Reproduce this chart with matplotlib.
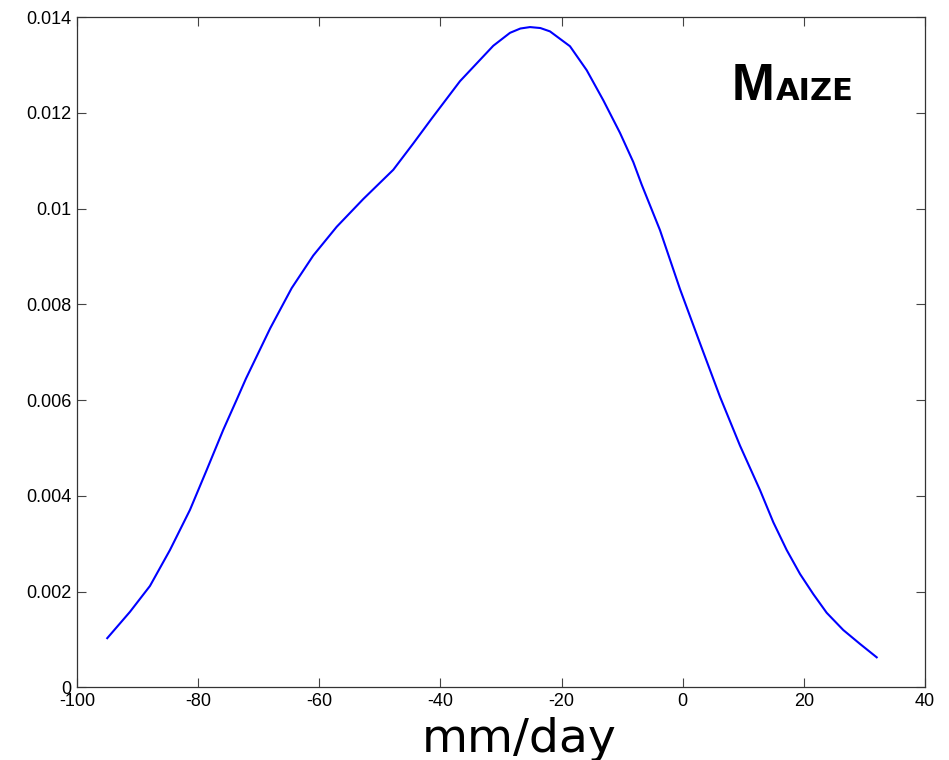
import matplotlib.pyplot as plt

plt.rcParams["font.family"] = ["Liberation Sans", "DejaVu Sans"]
plt.rcParams["axes.unicode_minus"] = False

# density curve (x in mm/day)
x_vals = [-95.0, -91.25, -87.95, -84.65, -81.34, -78.59, -75.85, -73.63, -72.1,
          -68.1, -64.55, -60.99, -57.12, -52.73, -47.78, -44.48, -41.44,
          -36.77, -31.27, -28.51, -26.8, -25.21, -23.5, -21.91, -18.61,
          -15.85, -13.1, -10.35, -8.15, -6.77, -3.75, -0.45, 2.85, 6.16,
          9.46, 12.77, 14.96, 17.17, 19.37, 21.56, 23.77, 26.51, 29.27, 32.03]
density = [0.00103, 0.00158, 0.00212, 0.00287, 0.00371, 0.00454, 0.00538,
           0.00601, 0.00645, 0.00750, 0.00834, 0.00902, 0.00962, 0.01020,
           0.01081, 0.01136, 0.01188, 0.01266, 0.01340, 0.01367, 0.01376,
           0.01379, 0.01377, 0.01370, 0.01339, 0.01289, 0.01226, 0.01158,
           0.01097, 0.01050, 0.00955, 0.00832, 0.00719, 0.00607, 0.00505,
           0.00412, 0.00345, 0.00287, 0.00237, 0.00195, 0.00156, 0.00120,
           0.00091, 0.00063]

x_ticks = [-100, -80, -60, -40, -20, 0, 20, 40]
y_ticks = [0, 0.002, 0.004, 0.006, 0.008, 0.01, 0.012, 0.014]
y_tick_labels = ["0", "0.002", "0.004", "0.006", "0.008", "0.01", "0.012", "0.014"]

fig = plt.figure(figsize=(9.49, 7.6), dpi=100)
ax = fig.add_axes([0.0811, 0.0954, 0.8936, 0.8822])

ax.plot(x_vals, density, color="#0000ff", lw=1.5, solid_joinstyle="round")

ax.set_xlim(-100, 40)
ax.set_ylim(0, 0.014)
ax.set_xticks(x_ticks)
ax.set_xticklabels([str(t) for t in x_ticks])
ax.set_yticks(y_ticks)
ax.set_yticklabels(y_tick_labels)
ax.tick_params(direction="in", length=6.5, width=0.8, labelsize=13,
               top=True, right=True, pad=4, color="#444444")
for s in ax.spines.values():
    s.set_linewidth(0.9)
    s.set_color("#333333")

ax.set_xlabel("mm/day", fontsize=34, family="DejaVu Sans", labelpad=0)
ax.xaxis.set_label_coords(0.522, -0.096)
ax.xaxis.label.set_va("baseline")

# small-caps style title
t1 = ax.text(0.772, 0.876, "M", transform=ax.transAxes, fontsize=37,
             fontweight="bold", ha="left", va="baseline")
ax.annotate("AIZE", xy=(1.0, 0.876), xycoords=(t1, "axes fraction"),
            xytext=(1, 0), textcoords="offset points",
            fontsize=22, fontweight="bold", family="DejaVu Sans",
            ha="left", va="baseline")

fig.savefig("out.png", dpi=100)
